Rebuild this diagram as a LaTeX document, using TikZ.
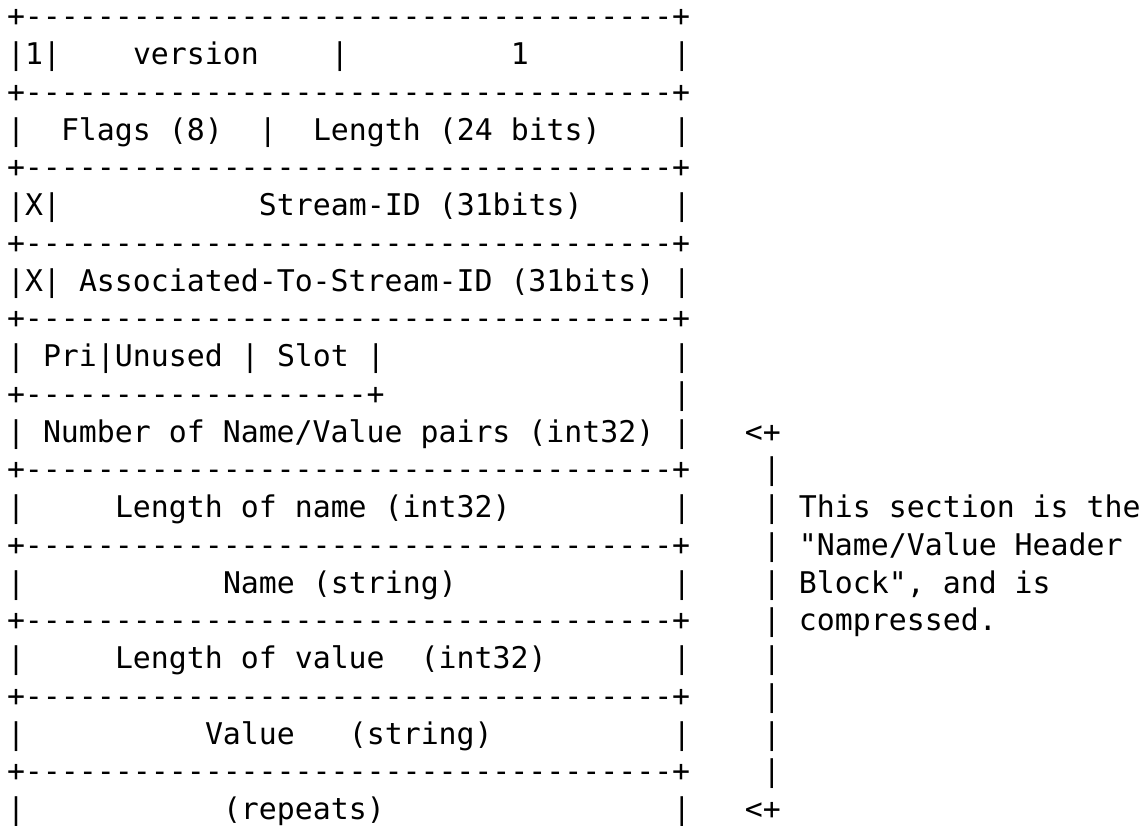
\documentclass[tikz,border=0pt]{standalone}
\usepackage{fontspec}
\setmonofont{DejaVu Sans Mono}
\tikzset{
  cell/.style={anchor=base west,inner sep=0pt,outer sep=0pt,font=\ttfamily\fontsize{22.4}{28}\selectfont},
}
\begin{document}
\begin{tikzpicture}[x=13.5pt,y=-28.3125pt]
\useasboundingbox (-0.389,-0.715) rectangle (63.39,21.166);
%rules
\foreach \r in {0,2,4,6,8,12,14,16,18,20}
  \node[cell] (rule\r) at (0,\r) {+------------------------------------+};
\node[cell] (rule10) at (0,10) {+-------------------+};
%side bars
\foreach \r in {1,3,...,21}
{
  \node[cell] (left\r) at (0,\r) {|};
  \node[cell] (right\r) at (37,\r) {|};
}
\node[cell] (right10) at (37,10) {|};
%header fields
\node[cell] (cbit) at (1,1) {1|};
\node[cell] (version) at (7,1) {version};
\node[cell] (verbar) at (18,1) {|};
\node[cell] (type) at (28,1) {1};
\node[cell] (flags) at (3,3) {Flags (8)};
\node[cell] (flagbar) at (14,3) {|};
\node[cell] (length) at (17,3) {Length (24 bits)};
\node[cell] (xbit) at (1,5) {X|};
\node[cell] (sid) at (14,5) {Stream-ID (31bits)};
\node[cell] (xbit2) at (1,7) {X|};
\node[cell] (asid) at (4,7) {Associated-To-Stream-ID (31bits)};
\node[cell] (pri) at (2,9) {Pri|Unused};
\node[cell] (pribar) at (13,9) {|};
\node[cell] (slot) at (15,9) {Slot};
\node[cell] (slotbar) at (20,9) {|};
%name/value block
\node[cell] (npairs) at (2,11) {Number of Name/Value pairs (int32)};
\node[cell] (namelen) at (6,13) {Length of name (int32)};
\node[cell] (name) at (12,15) {Name (string)};
\node[cell] (vallen) at (6,17) {Length of value~~(int32)};
\node[cell] (value) at (11,19) {Value~~~(string)};
\node[cell] (repeats) at (12,21) {(repeats)};
%side bracket
\node[cell] (top) at (41,11) {<+};
\foreach \r in {12,...,20}
  \node[cell] (bar\r) at (42,\r) {|};
\node[cell] (bottom) at (41,21) {<+};
\node[cell] (note1) at (44,13) {This section is the};
\node[cell] (note2) at (44,14) {"Name/Value Header};
\node[cell] (note3) at (44,15) {Block", and is};
\node[cell] (note4) at (44,16) {compressed.};
\end{tikzpicture}
\end{document}
